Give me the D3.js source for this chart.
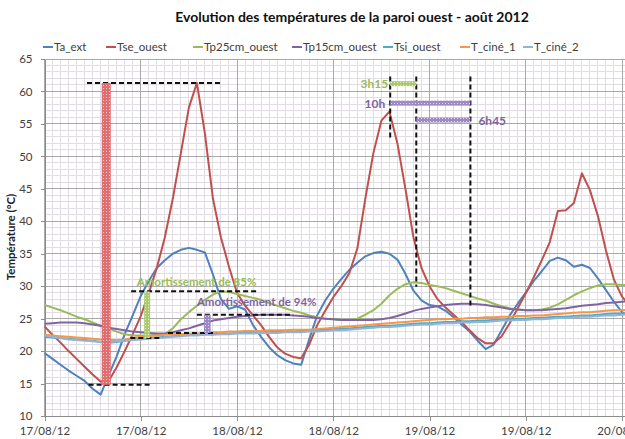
<!DOCTYPE html>
<html><head><meta charset="utf-8">
<script src="https://cdn.jsdelivr.net/npm/d3@7/dist/d3.min.js"></script>
<style>
body{margin:0;background:#fff}
svg{display:block}
text{font-family:Lato,"Open Sans",sans-serif}
</style>
</head><body>
<svg id="chart" width="625" height="439"></svg>
<script>
// Hours elapsed since 17/08/2012 00:00 (hourly readings)
const hours = [0,1,2,3,4,5,6,7,8,9,10,11,12,13,14,15,16,17,18,19,20,21,22,23,24,25,26,27,28,29,30,31,32,33,34,35,36,37,38,39,40,41,42,43,44,45,46,47,48,49,50,51,52,53,54,55,56,57,58,59,60,61,62,63,64,65,66,67,68,69,70,71,72,73];

const seriesNames = ["Ta_ext","Tse_ouest","Tp25cm_ouest","Tp15cm_ouest","Tsi_ouest","T_ciné_1","T_ciné_2"];

const taExt = [19.7,18.8,17.9,17.0,16.2,15.4,14.2,13.3,16.3,19.2,22.6,25.5,28.5,30.8,32.8,34.0,35.0,35.6,35.9,35.6,35.2,31.8,28.0,26.5,26.9,26.4,24.0,22.2,20.6,19.4,18.6,18.1,17.9,21.8,25.5,27.8,29.6,31.1,32.5,33.6,34.6,35.1,35.3,35.0,34.1,31.9,29.3,27.8,27.1,26.9,26.2,25.2,24.1,23.0,21.6,20.3,21.0,23.2,25.5,27.3,29.0,30.8,32.3,33.9,34.4,34.0,33.0,33.3,32.8,31.2,29.4,27.6,26.0,25.2];

const tseOuest = [23.8,22.5,21.3,20.0,18.8,17.6,16.4,15.3,15.4,17.5,20.0,22.6,25.4,28.9,32.8,37.5,43.5,50.5,57.5,61.3,53.5,43.5,37.5,33.0,29.0,27.0,25.5,24.0,22.2,20.6,19.6,19.1,18.9,21.0,24.0,26.2,28.3,30.0,32.0,35.8,43.5,50.5,55.5,56.9,52.0,45.0,37.5,32.8,30.0,28.0,26.7,25.6,24.5,23.2,22.0,21.2,21.2,22.3,24.3,26.6,28.9,31.4,34.0,36.8,41.6,41.7,42.8,47.4,44.8,40.8,35.5,31.0,28.4,27.0];

const tp25Ouest = [27.1,26.7,26.3,25.8,25.3,24.9,24.4,23.9,23.5,23.0,22.6,22.4,22.4,22.4,22.5,22.6,23.5,24.9,26.0,27.0,27.9,28.7,29.2,29.1,28.8,28.5,28.2,27.9,27.4,27.0,26.6,26.2,25.9,25.5,25.2,25.0,24.9,24.8,24.8,25.0,25.6,26.3,27.3,28.6,29.6,30.3,30.6,30.5,30.2,30.0,29.7,29.3,28.9,28.5,28.1,27.8,27.3,26.9,26.6,26.4,26.3,26.3,26.4,26.7,27.2,27.9,28.6,29.2,29.7,30.1,30.3,30.3,30.2,30.1];

const tp15Ouest = [24.2,24.3,24.4,24.4,24.4,24.3,24.1,23.9,23.6,23.4,23.2,23.0,22.9,22.8,22.7,22.7,22.9,23.2,23.5,23.9,24.3,24.7,24.9,25.1,25.3,25.4,25.5,25.6,25.6,25.6,25.6,25.5,25.4,25.3,25.1,25.0,24.9,24.8,24.8,24.8,24.8,24.8,24.9,25.1,25.4,25.8,26.2,26.5,26.7,26.9,27.1,27.2,27.3,27.3,27.2,27.1,26.9,26.7,26.5,26.4,26.3,26.3,26.3,26.4,26.5,26.6,26.8,27.0,27.1,27.2,27.4,27.5,27.6,27.7];

const tsiOuest = [22.2,22.1,22.0,21.9,21.8,21.7,21.6,21.4,21.3,21.4,21.6,21.8,21.9,22.0,22.1,22.2,22.3,22.4,22.5,22.5,22.6,22.6,22.7,22.7,22.8,22.8,22.9,22.9,22.9,23.0,23.0,23.0,23.1,23.1,23.2,23.3,23.4,23.4,23.5,23.6,23.7,23.8,23.9,23.9,24.0,24.1,24.2,24.3,24.3,24.4,24.5,24.5,24.6,24.6,24.7,24.7,24.8,24.8,24.9,25.0,25.0,25.1,25.1,25.2,25.3,25.3,25.4,25.5,25.5,25.6,25.7,25.8,25.8,25.9];

const tCine1 = [22.5,22.4,22.3,22.2,22.1,22.0,21.9,21.8,21.7,21.7,21.8,22.0,22.2,22.3,22.4,22.5,22.6,22.6,22.7,22.7,22.8,22.9,22.9,23.0,23.0,23.1,23.1,23.1,23.2,23.2,23.2,23.3,23.3,23.3,23.4,23.5,23.6,23.7,23.8,23.9,24.0,24.1,24.2,24.3,24.4,24.5,24.6,24.7,24.8,24.9,24.9,25.0,25.0,25.1,25.1,25.2,25.2,25.3,25.3,25.4,25.4,25.5,25.5,25.6,25.7,25.8,25.9,26.0,26.0,26.1,26.2,26.3,26.3,26.4];

const tCine2 = [22.4,22.2,22.0,21.8,21.7,21.6,21.5,21.4,21.4,21.5,21.6,21.7,21.8,21.9,22.0,22.1,22.2,22.3,22.4,22.4,22.5,22.5,22.6,22.6,22.7,22.7,22.7,22.8,22.8,22.8,22.9,22.9,22.9,23.0,23.0,23.1,23.2,23.2,23.3,23.4,23.5,23.6,23.7,23.7,23.8,23.9,24.0,24.1,24.1,24.2,24.3,24.3,24.4,24.4,24.5,24.5,24.6,24.7,24.7,24.8,24.8,24.9,24.9,25.0,25.1,25.1,25.2,25.3,25.3,25.4,25.5,25.5,25.6,25.7];

const seriesColors = ["#4F81BD","#C0504D","#9BBB59","#8064A2","#4BACC6","#F79646","#95B3D7"];

// Axis ticks
const xTickHours = [0,12,24,36,48,60,72];
const xTickLabels = ["17/08/12","17/08/12","18/08/12","18/08/12","19/08/12","19/08/12","20/08/12"];
const yTicks = [10,15,20,25,30,35,40,45,50,55,60,65];

// Damping annotations (°C and hours)
const tseMinTime = 7.7, tseMin = 14.8, tseMax = 61.3;
const p25Time = 12.8, p25Low = 22.0, p25High = 29.2;
const p15Time = 20.3, p15Low = 22.8, p15High = 25.6;
// Phase shifts between surface peak and wall peaks (hours)
const peakTse = 43.1, lag25 = 3.25, lag15 = 10;

const series = [taExt, tseOuest, tp25Ouest, tp15Ouest, tsiOuest, tCine1, tCine2];

const svg = d3.select("#chart");
const W = 625, H = 439;
const x = d3.scaleLinear().domain([0, 72]).range([44.5, 622]);
const y = d3.scaleLinear().domain([10, 65]).range([416, 59]);
const xEnd = 660;

svg.append("rect").attr("width", W).attr("height", H).attr("fill", "#fff");

const defs = svg.append("defs");
function dots(id, base, dot) {
  const p = defs.append("pattern").attr("id", id).attr("patternUnits", "userSpaceOnUse")
    .attr("width", 3).attr("height", 3);
  p.append("rect").attr("width", 3).attr("height", 3).attr("fill", base);
  p.append("rect").attr("x", 1).attr("y", 1).attr("width", 1).attr("height", 1).attr("fill", dot);
}
dots("redDots", "#df6e71", "#f8d2d3");
dots("greenDots", "#abc972", "#e2efc8");
dots("purpleDots", "#9d89c4", "#e0d8ee");

// Grid: minor (1 h, 1 °C) then major (12 h, 5 °C)
const grid = svg.append("g");
const minorH = d3.range(10, 66, 1), minorV = d3.range(0, 80, 1);
grid.selectAll(".mh").data(minorH).join("line")
  .attr("x1", x(0)).attr("x2", xEnd).attr("y1", d => y(d)).attr("y2", d => y(d))
  .attr("stroke", "#e2dce4").attr("stroke-width", 1).attr("shape-rendering", "crispEdges");
grid.selectAll(".mv").data(minorV).join("line")
  .attr("x1", d => x(d)).attr("x2", d => x(d)).attr("y1", y(65)).attr("y2", y(10))
  .attr("stroke", "#e2dce4").attr("stroke-width", 1).attr("shape-rendering", "crispEdges");
grid.selectAll(".MH").data(yTicks).join("line")
  .attr("x1", x(0)).attr("x2", xEnd).attr("y1", d => y(d)).attr("y2", d => y(d))
  .attr("stroke", "#a9a9a9").attr("stroke-width", 1).attr("shape-rendering", "crispEdges");
grid.selectAll(".MV").data(xTickHours).join("line")
  .attr("x1", d => x(d)).attr("x2", d => x(d)).attr("y1", y(65)).attr("y2", y(10))
  .attr("stroke", "#a9a9a9").attr("stroke-width", 1).attr("shape-rendering", "crispEdges");

// Axes
const xAxis = svg.append("g").attr("transform", `translate(0,${y(10)})`)
  .call(d3.axisBottom(x).tickValues(xTickHours).tickFormat((d, i) => xTickLabels[i]).tickSize(5).tickSizeOuter(0).tickPadding(6));
const yAxis = svg.append("g").attr("transform", `translate(${x(0)},0)`)
  .call(d3.axisLeft(y).tickValues(yTicks).tickSize(4).tickSizeOuter(0).tickPadding(8));
[xAxis, yAxis].forEach(g => {
  g.select(".domain").attr("stroke", "#8c8c8c").attr("shape-rendering", "crispEdges");
  g.selectAll(".tick line").attr("stroke", "#8c8c8c").attr("shape-rendering", "crispEdges");
  g.selectAll("text").attr("font-size", 11.5).attr("fill", "#404040").attr("font-family", "Lato");
});
xAxis.select(".domain").attr("d", `M${x(0)},0H${xEnd}`);

// Series lines
const line = d3.line().x((d, i) => x(hours[i])).y(d => y(d));
svg.append("g").selectAll("path").data(series).join("path")
  .attr("d", d => line(d)).attr("fill", "none")
  .attr("stroke", (d, i) => seriesColors[i]).attr("stroke-width", 2).attr("stroke-linejoin", "round");

// Annotations
const ann = svg.append("g");
function dash(x1, y1, x2, y2) {
  ann.append("line").attr("x1", x1).attr("y1", y1).attr("x2", x2).attr("y2", y2)
    .attr("stroke", "#111").attr("stroke-width", 2).attr("stroke-dasharray", "5,3");
}
// Surface amplitude bar
dash(x(5.3), y(tseMax), x(22), y(tseMax));
dash(x(5.5), y(tseMin), x(13.2), y(tseMin));
ann.append("rect").attr("x", x(tseMinTime) - 4.5).attr("width", 9)
  .attr("y", y(tseMax)).attr("height", y(tseMin) - y(tseMax)).attr("fill", "url(#redDots)");
// 25 cm amplitude
dash(x(10.8), y(p25High), x(26.6), y(p25High));
dash(x(10.7), y(p25Low), x(14.7), y(p25Low));
ann.append("rect").attr("x", x(p25Time) - 3).attr("width", 6)
  .attr("y", y(p25High)).attr("height", y(p25Low) - y(p25High)).attr("fill", "url(#greenDots)");
// 15 cm amplitude
dash(x(19.0), y(p15High), x(31.0), y(p15High));
dash(x(15.4), y(p15Low), x(21.4), y(p15Low));
ann.append("rect").attr("x", x(p15Time) - 3.3).attr("width", 6.6)
  .attr("y", y(p15High)).attr("height", y(p15Low) - y(p15High)).attr("fill", "url(#purpleDots)");

ann.append("text").attr("x", x(11.5)).attr("y", y(p25High) - 5)
  .attr("font-size", 11.5).attr("font-weight", "bold").attr("fill", "#9BBB59")
  .text("Amortissement de " + Math.round((1 - (p25High - p25Low) / (tseMax - tseMin)) * 100) + "%");
ann.append("text").attr("x", x(19.0)).attr("y", y(p15High) - 9)
  .attr("font-size", 11.5).attr("font-weight", "bold").attr("fill", "#8064A2")
  .text("Amortissement de " + Math.round((1 - (p15High - p15Low) / (tseMax - tseMin)) * 100) + "%");

// Phase shifts
const t1 = peakTse, t2 = peakTse + lag25, t3 = peakTse + lag15;
dash(x(t1), y(62.3), x(t1), y(52.8));
dash(x(t2), y(62.3), x(t2), y(29.9));
dash(x(t3), y(62.3), x(t3), y(26.6));
const bh = 5;
ann.append("rect").attr("x", x(t1)).attr("width", x(t2) - x(t1)).attr("y", y(61.2) - bh / 2).attr("height", bh).attr("fill", "url(#greenDots)");
ann.append("rect").attr("x", x(t1)).attr("width", x(t3) - x(t1)).attr("y", y(58.2) - bh / 2).attr("height", bh).attr("fill", "url(#purpleDots)");
ann.append("rect").attr("x", x(t2)).attr("width", x(t3) - x(t2)).attr("y", y(55.6) - bh / 2).attr("height", bh).attr("fill", "url(#purpleDots)");
function fmtLag(h) { const m = Math.round((h % 1) * 60); return Math.floor(h) + "h" + (m ? String(m).padStart(2, "0") : ""); }
ann.append("text").attr("x", x(t1) - 2).attr("y", y(61.2) + 4.5).attr("text-anchor", "end")
  .attr("font-size", 12).attr("font-weight", "bold").attr("fill", "#9BBB59").text(fmtLag(lag25));
ann.append("text").attr("x", x(t1) - 5).attr("y", y(58.2) + 4.5).attr("text-anchor", "end")
  .attr("font-size", 12).attr("font-weight", "bold").attr("fill", "#8064A2").text(fmtLag(lag15));
ann.append("text").attr("x", x(t3) + 8).attr("y", y(55.6) + 4.5)
  .attr("font-size", 12).attr("font-weight", "bold").attr("fill", "#8064A2").text(fmtLag(lag15 - lag25));

// Title
svg.append("text").attr("x", 352).attr("y", 22).attr("text-anchor", "middle")
  .attr("font-size", 14).attr("font-weight", "bold").attr("fill", "#111")
  .text("Evolution des températures de la paroi ouest - août 2012");

// Y axis title
svg.append("text").attr("transform", `translate(15,237) rotate(-90)`).attr("text-anchor", "middle")
  .attr("font-size", 11.5).attr("font-weight", "bold").attr("fill", "#222")
  .text("Température (°C)");

// Legend (one row, entry start positions in px)
const legendX = [43, 106, 193, 292, 383, 460, 523];
const legend = svg.append("g").attr("transform", "translate(0,47)");
seriesNames.forEach((name, i) => {
  const g = legend.append("g").attr("transform", `translate(${legendX[i]},0)`);
  g.append("line").attr("x1", 0).attr("x2", 10).attr("y1", 0).attr("y2", 0)
    .attr("stroke", seriesColors[i]).attr("stroke-width", 2);
  g.append("text").attr("x", 11).attr("y", 4).attr("font-size", 11.5).attr("fill", "#404040").text(name);
});
</script>
</body></html>
